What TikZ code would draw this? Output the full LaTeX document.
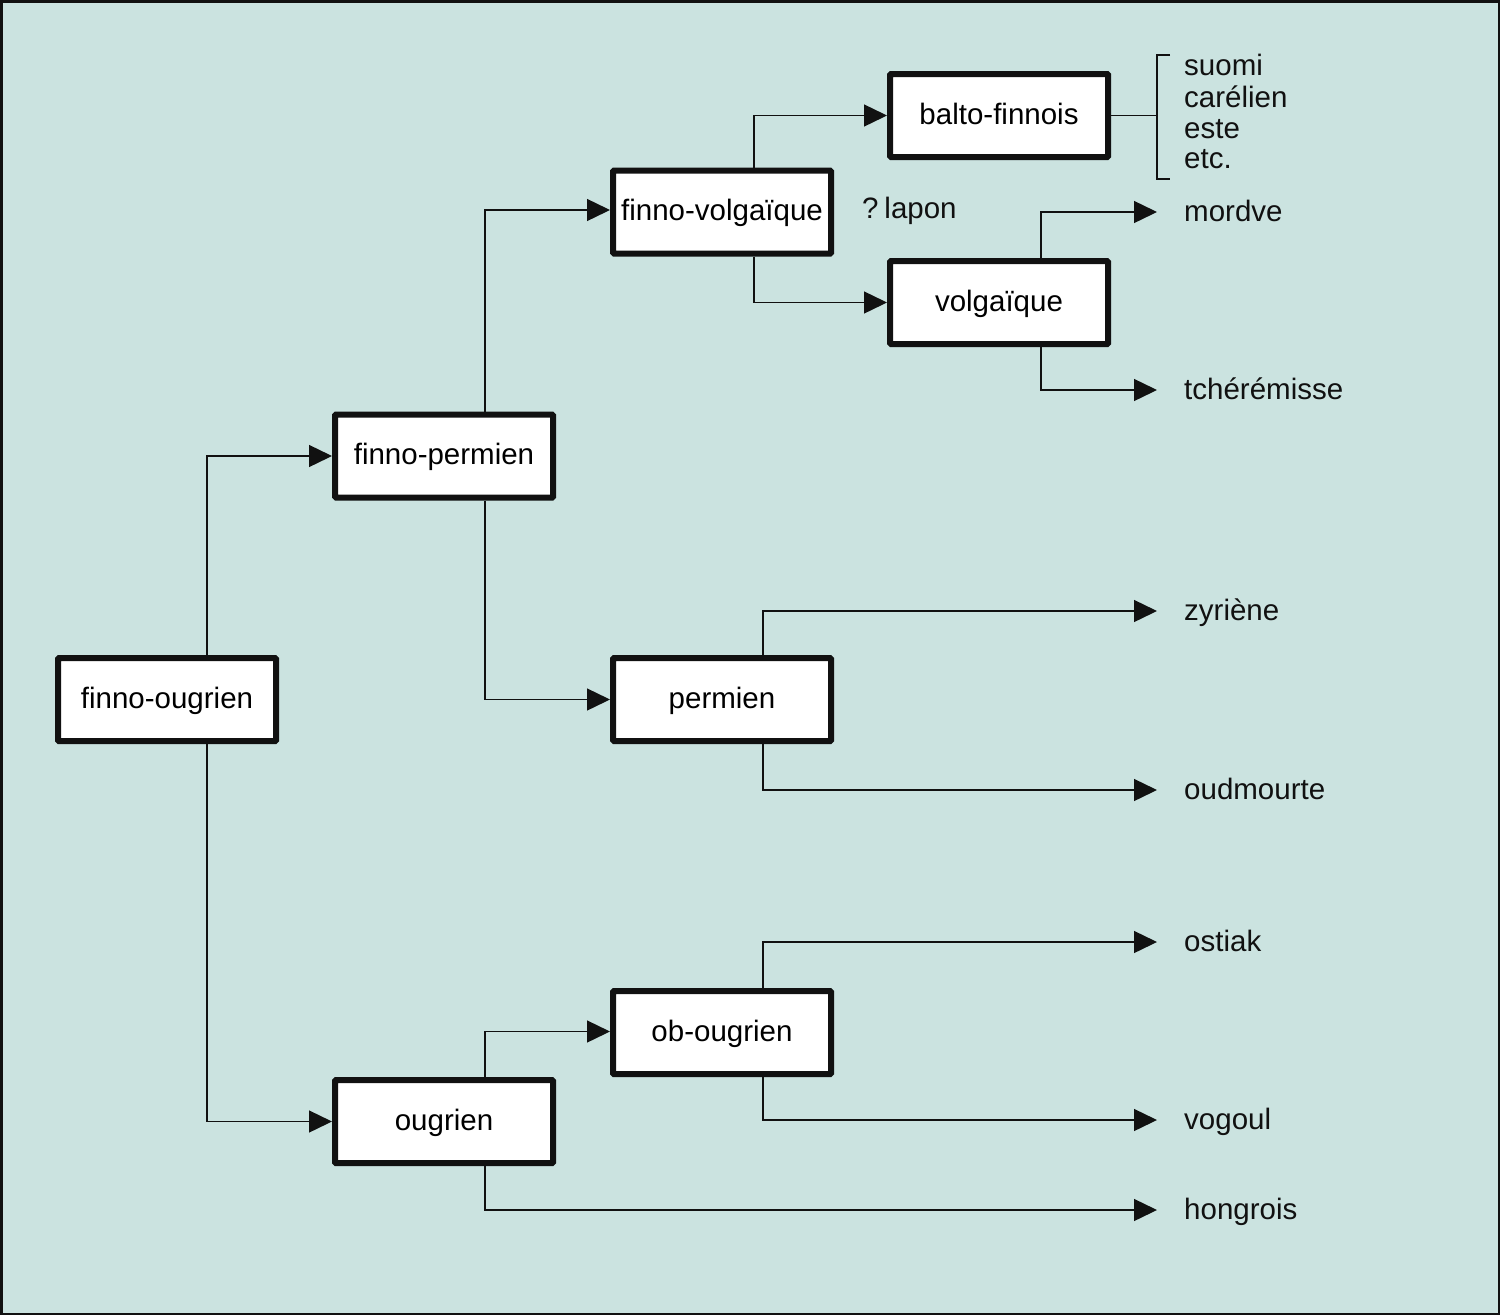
\documentclass[tikz,border=0pt]{standalone}
\usepackage{fontspec}
\setmainfont{Liberation Sans}
\usetikzlibrary{arrows.meta}
\definecolor{bgc}{HTML}{CBE3E0}
\definecolor{ink}{HTML}{111111}
\begin{document}
\begin{tikzpicture}[x=1pt,y=-1pt,
  box/.style={draw=ink,line width=6pt,fill=white,rounded corners=1pt,minimum width=218pt,minimum height=83pt,inner sep=0pt,font=\fontsize{29.5}{35}\selectfont,text height=21pt,text depth=4pt},
  leaf/.style={anchor=base west,inner sep=0pt,font=\fontsize{29.5}{35}\selectfont,text=ink},
  conn/.style={draw=ink,line width=1.4pt},
  arr/.style={conn,-{Triangle[length=23pt,width=22pt]}}]
\fill[bgc] (0,0) rectangle (1500,1315);
\draw[ink,line width=2.5pt] (1.25,1.25) rectangle (1498.75,1313.75);
\useasboundingbox (0,0) rectangle (1500,1315);
% boxes
\node[box] (fo) at (167,699.5) {finno-ougrien};
\node[box] (fp) at (444,456) {finno-permien};
\node[box] (fv) at (722,212) {finno-volgaïque};
\node[box] (bf) at (999,115.5) {balto-finnois};
\node[box] (vo) at (999,302.5) {volgaïque};
\node[box] (pe) at (722,699.5) {permien};
\node[box] (ob) at (722,1032.5) {ob-ougrien};
\node[box] (ou) at (444,1121.5) {ougrien};
% leaves
\node[leaf] (suomi) at (1184,75) {suomi};
\node[leaf] (carelien) at (1184,107) {carélien};
\node[leaf] (este) at (1184,138) {este};
\node[leaf] (etc) at (1184,168) {etc.};
\node[leaf] (lapon) at (862,218) {?\hspace{0.2em}lapon};
\node[leaf] (mordve) at (1184,221) {mordve};
\node[leaf] (tcher) at (1184,399) {tchérémisse};
\node[leaf] (zyr) at (1184,620) {zyriène};
\node[leaf] (oud) at (1184,799) {oudmourte};
\node[leaf] (ost) at (1184,951) {ostiak};
\node[leaf] (vog) at (1184,1129) {vogoul};
\node[leaf] (hon) at (1184,1219) {hongrois};
% connectors between boxes
\draw[arr] ([xshift=40pt]fo.north) |- (fp.west);
\draw[arr] ([xshift=40pt]fo.south) |- (ou.west);
\draw[arr] ([xshift=41pt]fp.north) |- ([yshift=2pt]fv.west);
\draw[arr] ([xshift=41pt]fp.south) |- (pe.west);
\draw[arr] ([xshift=32pt]fv.north) |- (bf.west);
\draw[arr] ([xshift=32pt]fv.south) |- (vo.west);
\draw[arr] ([xshift=41pt]ou.north) |- ([yshift=1pt]ob.west);
% connectors to leaves
\draw[arr] ([xshift=42pt]vo.north) |- ([xshift=-27pt,yshift=9pt]mordve.base west);
\draw[arr] ([xshift=42pt]vo.south) |- ([xshift=-27pt,yshift=9pt]tcher.base west);
\draw[arr] ([xshift=41pt]pe.north) |- ([xshift=-27pt,yshift=9pt]zyr.base west);
\draw[arr] ([xshift=41pt]pe.south) |- ([xshift=-27pt,yshift=9pt]oud.base west);
\draw[arr] ([xshift=41pt]ob.north) |- ([xshift=-27pt,yshift=9pt]ost.base west);
\draw[arr] ([xshift=41pt]ob.south) |- ([xshift=-27pt,yshift=9pt]vog.base west);
\draw[arr] ([xshift=41pt]ou.south) |- ([xshift=-27pt,yshift=9pt]hon.base west);
% bracket
\coordinate (brtop) at (1157,55);
\coordinate (brbot) at (1157,179);
\draw[conn] (bf.east) -- (bf.east -| brtop);
\draw[conn] ([xshift=13pt]brtop) -- (brtop) -- (brbot) -- ([xshift=13pt]brbot);
\end{tikzpicture}
\end{document}
